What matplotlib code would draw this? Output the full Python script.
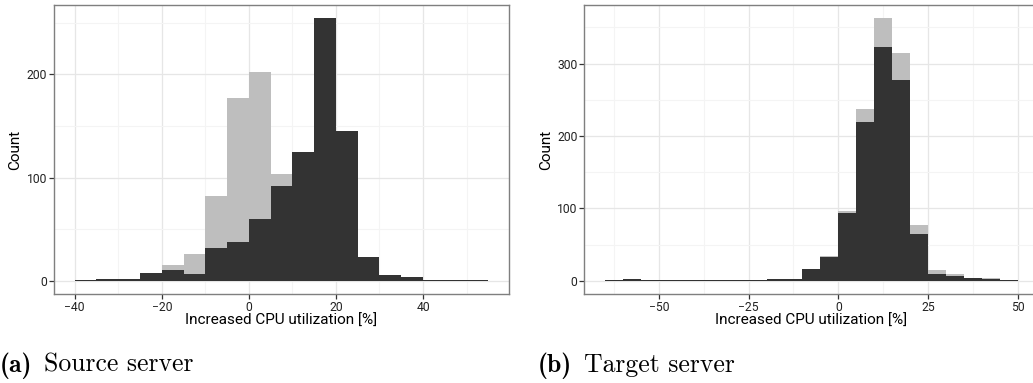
import numpy as np
import matplotlib
matplotlib.use("Agg")
import matplotlib.pyplot as plt
from matplotlib.ticker import FixedLocator

# bin lower edges (bin width 5) and counts
bins_a = [-40, -35, -30, -25, -20, -15, -10, -5, 0, 5, 10, 15, 20, 25, 30, 35, 40, 45, 50]
dark_a = [1, 2, 2, 8, 10, 7, 32, 38, 60, 92, 125, 254, 145, 23, 6, 4, 1, 1, 1]
gray_a = [1, 2, 2, 8, 15, 26, 82, 177, 202, 103, 125, 254, 145, 23, 6, 4, 1, 1, 1]

bins_b = [-65, -60, -55, -50, -45, -40, -35, -30, -25, -20, -15, -10, -5, 0, 5, 10, 15, 20, 25, 30, 35, 40, 45]
dark_b = [1, 2, 1, 1, 1, 1, 1, 1, 1, 2, 3, 17, 33, 94, 219, 323, 278, 65, 10, 7, 4, 2, 1]
gray_b = [1, 2, 1, 1, 1, 1, 1, 1, 1, 2, 3, 17, 35, 97, 237, 363, 315, 77, 15, 10, 4, 4, 1]

xticks_a = [-40, -20, 0, 20, 40]
yticks_a = [0, 100, 200]
xticks_b = [-50, -25, 0, 25, 50]
yticks_b = [0, 100, 200, 300]

DARK = "#333333"
GRAY = "#bebebe"
W, H = 1033, 383

plt.rcParams['font.family'] = ['Roboto', 'DejaVu Sans']

fig = plt.figure(figsize=(W / 100, H / 100), dpi=100)
ax1 = fig.add_axes([54 / W, 89 / H, 455 / W, 289 / H])
ax2 = fig.add_axes([584.3 / W, 89 / H, 454.2 / W, 289 / H])


def draw_hist(ax, bins, gray, dark, xticks, yticks, xlim, ylim, xminor, yminor):
    ax.bar(bins, gray, width=5, align='edge', color=GRAY, linewidth=0, zorder=2)
    ax.bar(bins, dark, width=5, align='edge', color=DARK, linewidth=0, zorder=3)
    ax.set_xlim(*xlim)
    ax.set_ylim(*ylim)
    ax.set_xticks(xticks)
    ax.set_yticks(yticks)
    ax.xaxis.set_minor_locator(FixedLocator(xminor))
    ax.yaxis.set_minor_locator(FixedLocator(yminor))
    ax.grid(True, which='major', color='#e6e6e6', linewidth=0.9, zorder=0)
    ax.grid(True, which='minor', color='#f4f4f4', linewidth=0.8, zorder=0)
    ax.set_axisbelow(True)
    ax.tick_params(which='major', length=3.5, width=0.9, color='#333333',
                   labelsize=8.7, labelcolor='#222222', pad=1.5)
    ax.tick_params(which='minor', length=0)
    for s in ax.spines.values():
        s.set_color('#7f7f7f')
        s.set_linewidth(1.0)
    ax.set_xlabel('Increased CPU utilization [%]', fontsize=11, labelpad=0)
    ax.set_ylabel('Count', fontsize=11, labelpad=3)


draw_hist(ax1, bins_a, gray_a, dark_a, xticks_a, yticks_a,
          (-44.75, 59.75), (-12.75, 267.0),
          [-30, -10, 10, 30, 50], [50, 150, 250])
draw_hist(ax2, bins_b, gray_b, dark_b, xticks_b, yticks_b,
          (-70.75, 55.75), (-18.15, 381.0),
          [-62.5, -37.5, -12.5, 12.5, 37.5], [50, 150, 250, 350])
ax2.spines['right'].set_visible(False)

# captions
yb = (H - 372) / H
ta = fig.text(0.0 / W, yb, '(a)', family='cmb10', fontsize=18.5, va='baseline')
tb = fig.text(538 / W, yb, '(b)', family='cmb10', fontsize=18.5, va='baseline')
fig.canvas.draw()
r = fig.canvas.get_renderer()
for t, label in [(ta, 'Source server'), (tb, 'Target server')]:
    bb = t.get_window_extent(r)
    fig.text((bb.x1 + 12) / W, yb, label, family='cmr10', fontsize=18.5, va='baseline')

fig.savefig('out.png', dpi=100)
